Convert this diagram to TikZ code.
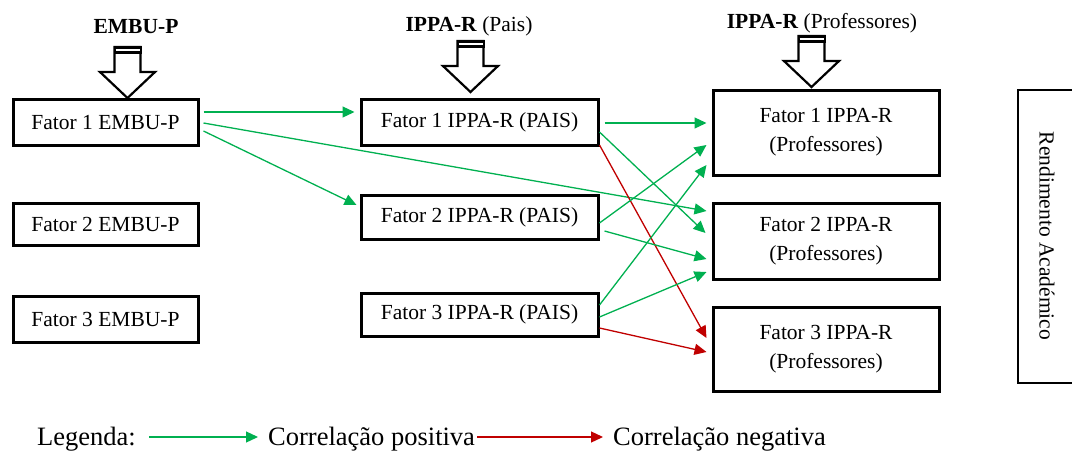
\documentclass[tikz,border=0pt]{standalone}
\usepackage{fontspec}
\setmainfont{Liberation Serif}
\usetikzlibrary{arrows.meta,calc}
\definecolor{posgreen}{HTML}{00B050}
\definecolor{negred}{HTML}{C00000}
\begin{document}
\begin{tikzpicture}[x=1pt,y=-1pt,
  every node/.style={font=\fontsize{21.5}{29}\selectfont},
  legtext/.style={anchor=base west,inner sep=0pt,font=\fontsize{26.5}{30}\selectfont},
  fbox/.style={draw=black,line width=3pt,rectangle,inner sep=0pt,align=center,fill=white},
  posarrow/.style={draw=posgreen,line width=1.3pt,-{Triangle[length=12pt,width=11pt]}},
  negarrow/.style={draw=negred,line width=1.3pt,-{Triangle[length=12pt,width=11pt]}},
  pics/bigarrow/.style={code={
    \draw[line width=2.2pt,fill=white,line join=miter] (-13,0) -- (-13,25) -- (-27.5,25) -- (0,51) -- (27.5,25) -- (13,25) -- (13,0) -- cycle;
    \fill[black] (-14,-1) rectangle (14,6.5);
    \draw[white,line width=1.1pt] (-12,3) -- (12,3);
  }}]
\useasboundingbox (0,0) rectangle (1072,451);

% big arrows and headers
\pic at (127.5,47) {bigarrow};
\pic at (470.5,41) {bigarrow};
\pic at (811.5,36) {bigarrow};
\node (h1) at (136,27) {\textbf{EMBU-P}};
\node (h2) at (469,26) {\textbf{IPPA-R} (Pais)};
\node (h3) at (822,23) {\textbf{IPPA-R} (Professores)};

% boxes
\node[fbox,minimum width=185pt,minimum height=46pt] (e1) at (105.5,122.5) {Fator 1 EMBU-P};
\node[fbox,minimum width=185pt,minimum height=42pt] (e2) at (105.5,224) {Fator 2 EMBU-P};
\node[fbox,minimum width=185pt,minimum height=46pt] (e3) at (105.5,319) {Fator 3 EMBU-P};

\node[fbox,minimum width=237pt,minimum height=46pt] (p1) at (479.5,122) {Fator 1 IPPA-R (PAIS)};
\node[fbox,minimum width=237pt,minimum height=44pt] (p2) at (479.5,217) {Fator 2 IPPA-R (PAIS)};
\node[fbox,minimum width=237pt,minimum height=43pt] (p3) at (479.5,314.5) {Fator 3 IPPA-R (PAIS)};

\node[fbox,minimum width=226pt,minimum height=85pt] (q1) at (826,132.5) {Fator 1 IPPA-R\\(Professores)};
\node[fbox,minimum width=226pt,minimum height=76pt] (q2) at (826,241) {Fator 2 IPPA-R\\(Professores)};
\node[fbox,minimum width=226pt,minimum height=84pt] (q3) at (826,349) {Fator 3 IPPA-R\\(Professores)};

\node[draw=black,line width=2pt,rectangle,minimum width=66pt,minimum height=293pt,inner sep=0pt] (r) at (1051,236.5) {};
\node[rotate=-90] (rt) at (1047,236) {Rendimento Académico};

% connectors
\draw[posarrow] ($(e1.east)+(4,-10.5)$) -- ($(p1.west)+(-5,-10)$);
\draw[posarrow] ($(e1.east)+(4,0.5)$) -- ($(q2.west)+(-5,-30)$);
\draw[posarrow] ($(e1.east)+(4,8.5)$) -- ($(p2.west)+(-3,-12)$);

\draw[posarrow] ($(p1.east)+(5,1)$) -- ($(q1.west)+(-5,-9.5)$);
\draw[posarrow] ($(p1.east)+(0,10)$) -- ($(q2.west)+(-6,-8)$);
\draw[negarrow] ($(p1.east)+(0,23)$) -- ($(q3.west)+(-5,-11)$);

\draw[posarrow] ($(p2.east)+(0,6)$) -- ($(q1.west)+(-5,12.5)$);
\draw[posarrow] ($(p2.east)+(5,14)$) -- ($(q2.west)+(-5,18)$);

\draw[posarrow] ($(p3.east)+(0,-9.5)$) -- ($(q1.west)+(-5,32.5)$);
\draw[posarrow] ($(p3.east)+(0,2.5)$) -- ($(q2.west)+(-5,31)$);
\draw[negarrow] ($(p3.east)+(0,13.5)$) -- ($(q3.west)+(-5,3)$);

% legend
\node[legtext] (lg) at (37,445) {Legenda:};
\node[legtext] (lp) at (268,445) {Correlação positiva};
\node[legtext] (ln) at (613,445) {Correlação negativa};
\coordinate (g0) at (149,437);
\coordinate (r0) at (477,437);
\draw[posarrow] (g0) -- (g0 -| {$(lp.west)+(-10,0)$});
\draw[negarrow] (r0) -- (r0 -| {$(ln.west)+(-10,0)$});
\end{tikzpicture}
\end{document}
